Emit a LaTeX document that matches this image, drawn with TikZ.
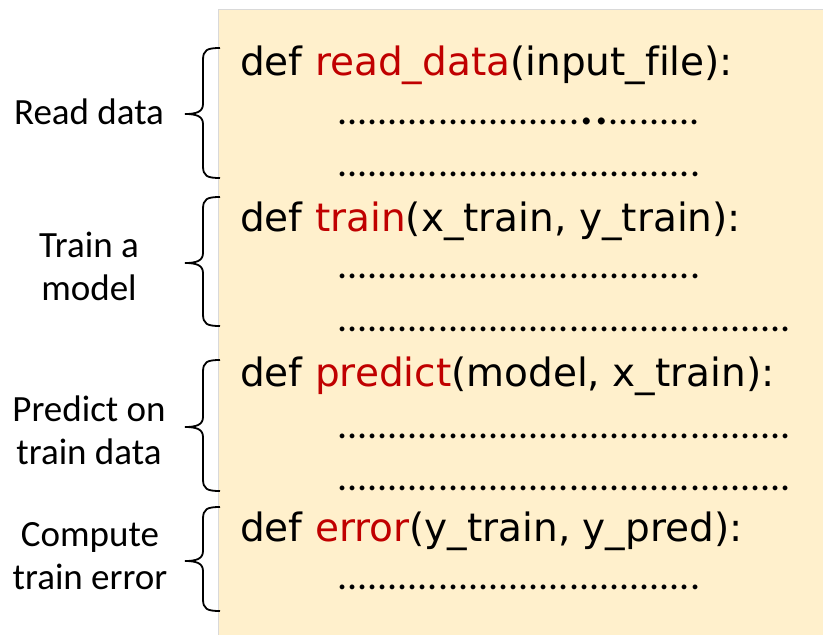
\documentclass[tikz,border=0pt]{standalone}
\usepackage{fontspec}
\setmainfont{Carlito}
\newfontfamily\codefont[Ligatures=NoCommon]{DejaVu Sans}
\newfontfamily\dotfont{Carlito}
\definecolor{boxfill}{HTML}{FFF0CC}
\definecolor{boxline}{HTML}{D9D9D9}
\definecolor{fnred}{HTML}{C00000}
\tikzset{
  codeline/.style={anchor=base west, inner sep=0pt, font=\codefont\fontsize{39}{47}\selectfont},
  dotline/.style={anchor=base west, inner sep=0pt, font=\dotfont\fontsize{40}{47}\selectfont},
  label/.style={align=center, inner sep=0pt, font=\fontsize{37}{43}\selectfont},
  bracepath/.style={draw=black, line width=1.8pt},
}
\newcommand{\fn}[1]{\textcolor{fnred}{#1}}
\newcommand{\bigdots}{{\fontsize{58}{47}\selectfont ..}}
\newcommand{\bracedraw}[3]{% top, mid, bottom
  \draw[bracepath] (220,#1) .. controls (207,#1) and (203,#1+2) .. (203,#1+12)
    -- (203,#2-10) .. controls (203,#2-2) and (196,#2) .. (185,#2)
    .. controls (196,#2) and (203,#2+2) .. (203,#2+10)
    -- (203,#3-12) .. controls (203,#3-2) and (207,#3) .. (220,#3);}
\begin{document}
\begin{tikzpicture}[x=1pt,y=-1pt]
\useasboundingbox (0,0) rectangle (823,635);
\fill[boxfill] (218,9) rectangle (830,640);
\draw[boxline, line width=1pt] (218,640) -- (218,9) -- (830,9);
% code
\node[codeline] (l1) at (240,75) {def \fn{read\_data}(input\_file):};
\node[dotline] (d1) at (337,124) {........................\bigdots.........};
\node[dotline] (d2) at (337,176) {....................................};
\node[codeline] (l2) at (240,231) {def \fn{train}(x\_train, y\_train):};
\node[dotline] (d3) at (337,278) {....................................};
\node[dotline] (d4) at (337,331) {.............................................};
\node[codeline] (l3) at (240,386) {def \fn{predict}(model, x\_train):};
\node[dotline] (d5) at (337,438) {.............................................};
\node[dotline] (d6) at (337,490) {.............................................};
\node[codeline] (l4) at (240,541) {def \fn{error}(y\_train, y\_pred):};
\node[dotline] (d7) at (337,589) {....................................};
% braces
\bracedraw{48}{114}{178}
\bracedraw{197}{263}{326}
\bracedraw{360}{427}{491}
\bracedraw{507}{561}{611}
% labels
\node[label] (t1) at (89,112) {Read data};
\node[label] (t2) at (89,266) {Train a\\model};
\node[label] (t3) at (89,430) {Predict on\\train data};
\node[label] (t4) at (90,556) {Compute\\train error};
\end{tikzpicture}
\end{document}
